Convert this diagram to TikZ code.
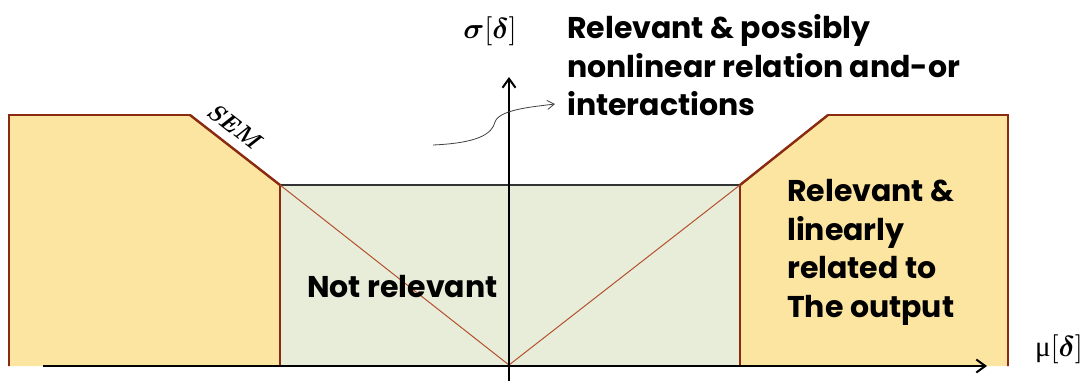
\documentclass[tikz,border=0pt]{standalone}
\usepackage{amsmath,bm}
\usepackage{fontspec}
\setsansfont{Poppins}
\newfontfamily\grkfont{Liberation Serif}
\usetikzlibrary{arrows.meta}
\definecolor{yel}{HTML}{FCE5A1}
\definecolor{grn}{HTML}{E8EDD9}
\definecolor{edge}{HTML}{8A2A10}
\definecolor{diag}{HTML}{B5502E}
\tikzset{
  lbl/.style={font=\sffamily\bfseries\fontsize{30}{38.5}\selectfont, inner sep=0pt, align=left},
  axis/.style={line width=2.4pt, -{Straight Barb[length=9pt,width=13pt,line width=2pt]}},
  mathlbl/.style={font=\fontsize{10}{12}\selectfont, scale=2.9, anchor=base, inner sep=0pt},
}
\begin{document}
\begin{tikzpicture}[x=1pt,y=-1pt]
\useasboundingbox (0,0) rectangle (1089,381);
% green region
\fill[grn] (280,185) rectangle (740,365);
\draw[line width=1.2pt,black!80] (280,185) -- (740,185);
% yellow regions
\filldraw[fill=yel,draw=edge,line width=1.6pt] (9,366) -- (9,115) -- (190,115) -- (280,185) -- (280,366);
\filldraw[fill=yel,draw=edge,line width=1.6pt] (740,366) -- (740,185) -- (828,115) -- (1008,115) -- (1008,366);
\draw[edge,line width=2.4pt] (190,115) -- (280,185);
\draw[edge,line width=2.4pt] (740,185) -- (828,115);
% diagonals
\coordinate (O) at (509,365);
\draw[diag,line width=1pt] (280,185) -- (O) -- (740,185);
% axes
\coordinate (xs) at (43,366);
\coordinate (xe) at (987,366);
\coordinate (ys) at (509,381);
\coordinate (ye) at (509,77);
\draw[axis] (xs) -- (xe);
\draw[axis] (ys) -- (ye);
% labels
\node[mathlbl] (sig) at (490,38) {$\bm{\sigma}[\bm{\delta}]$};
\node[mathlbl] (mu) at (1059,356) {{\grkfont μ}$[\bm{\delta}]$};
\node[lbl,anchor=north west] (top) at (567,14.5) {Relevant \& possibly\\nonlinear relation and-or\\interactions};
\node[lbl,anchor=base] (nr) at (402.5,297) {Not relevant};
\node[lbl,anchor=north west] (rl) at (787,179.5) {Relevant \&\\linearly\\related to\\The output};
\node[font=\bfseries\itshape\fontsize{24}{26}\selectfont, rotate=-38, inner sep=0pt] (sem) at (234,126) {SEM};
% curved pointer
\coordinate (ps) at (433,145);
\coordinate (pe) at (555,104);
\draw[black!75,line width=0.8pt,-{Straight Barb[length=7pt,width=9pt]}] (ps) .. controls (478,143) and (492,134) .. (495,122) .. controls (499,110) and (530,107) .. (pe);
\end{tikzpicture}
\end{document}
